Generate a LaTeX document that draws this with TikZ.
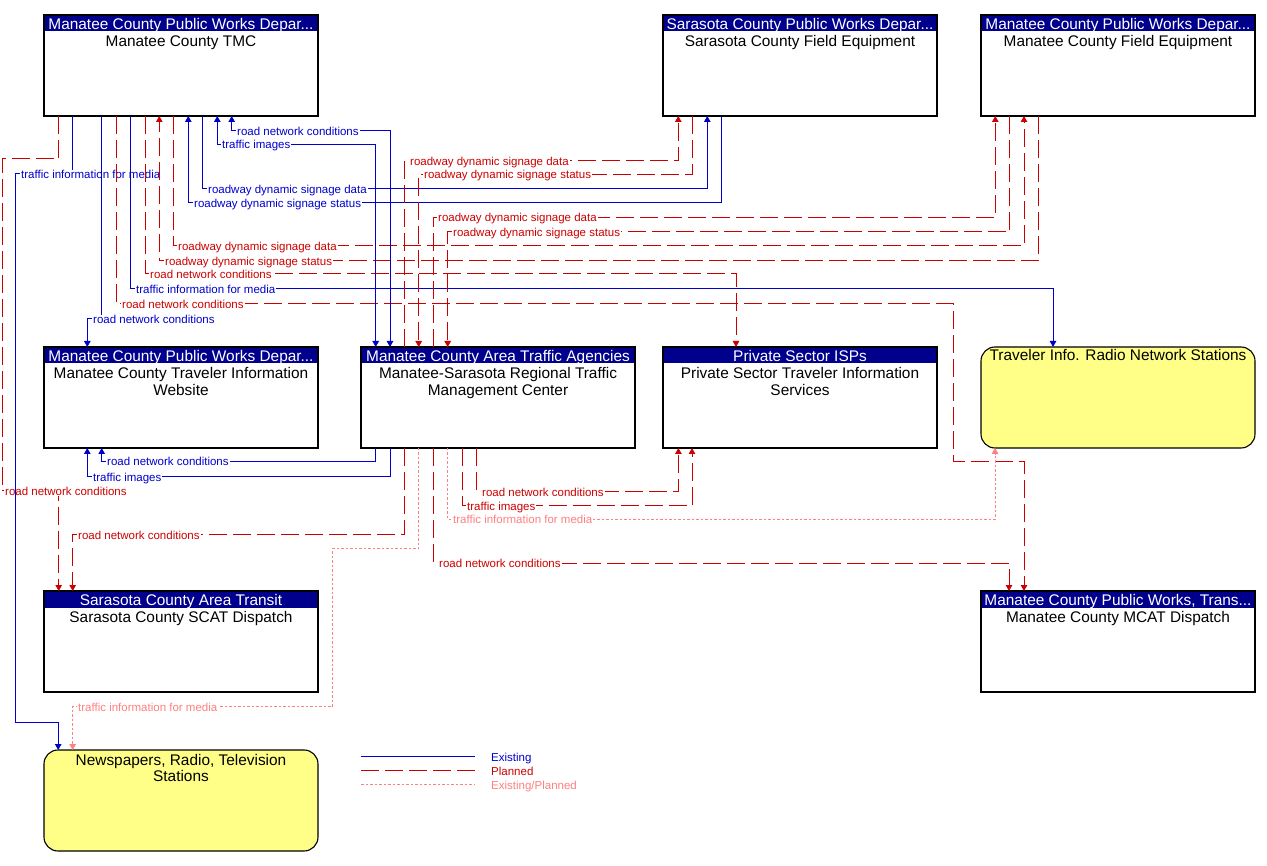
\documentclass[tikz,border=0pt]{standalone}
\usepackage{fontspec}
\setmainfont{Liberation Sans}
\usetikzlibrary{arrows.meta}
\definecolor{exblue}{RGB}{0,0,204}
\definecolor{plred}{RGB}{204,0,0}
\definecolor{expink}{RGB}{255,128,128}
\definecolor{hdrblue}{RGB}{0,0,140}
\definecolor{extyellow}{RGB}{255,255,136}
\tikzset{
 sbox/.style={draw=black, line width=1.1pt, minimum width=274pt, minimum height=101pt, inner sep=0pt, outer sep=0pt, anchor=north west},
 ybox/.style={sbox, fill=extyellow, rounded corners=14pt},
 hdrtext/.style={text=white, font=\fontsize{15.4}{17}\selectfont, inner sep=0pt, anchor=base},
 ttl/.style={text=black, font=\fontsize{15.4}{17}\selectfont, inner sep=0pt, anchor=base},
 lab/.style={font=\fontsize{11.5}{13}\selectfont, fill=white, inner xsep=1pt, inner ysep=0.5pt, anchor=base west},
 legtext/.style={font=\fontsize{11.5}{13}\selectfont, inner sep=0pt, anchor=base west},
 existing/.style={draw=exblue, line width=1pt},
 planned/.style={draw=plred, line width=1pt, dash pattern=on 18pt off 6pt},
 explan/.style={draw=expink, line width=1pt, dash pattern=on 2.5pt off 2pt},
 tip/.style={-{Triangle[width=6.5pt,length=6pt]}},
 tips/.style={{Triangle[width=6.5pt,length=6pt]}-{Triangle[width=6.5pt,length=6pt]}},
}
\newcommand\archbox[4]{%
 \node[sbox] (#1) at (#2,#3) {};
 \fill[hdrblue] (#1.north west) rectangle ([yshift=-16.5pt]#1.north east);
 \draw[line width=1.1pt] (#1.north west) rectangle (#1.south east);
 \node[hdrtext] at ([yshift=-14.3pt]#1.north) {#4};
}
\newcommand\lbl[4]{\node[lab,text=#1] at (#2,#3+4.5) {#4};}
\begin{document}
\begin{tikzpicture}[x=1pt,y=-1pt]
\useasboundingbox (0,0) rectangle (1267,866);
% boxes
\archbox{tmc}{44}{15}{Manatee County Public Works Depar...}
\node[ttl] at ([yshift=-31.7pt]tmc.north) {Manatee County TMC};
\archbox{sfe}{663}{15}{Sarasota County Public Works Depar...}
\node[ttl] at ([yshift=-31.7pt]sfe.north) {Sarasota County Field Equipment};
\archbox{mfe}{981}{15}{Manatee County Public Works Depar...}
\node[ttl] at ([yshift=-31.7pt]mfe.north) {Manatee County Field Equipment};
\archbox{web}{44}{347}{Manatee County Public Works Depar...}
\node[ttl] at ([yshift=-31.7pt]web.north) {Manatee County Traveler Information};
\node[ttl] at ([yshift=-48.4pt]web.north) {Website};
\archbox{rtmc}{361}{347}{Manatee County Area Traffic Agencies}
\node[ttl] at ([yshift=-31.7pt]rtmc.north) {Manatee-Sarasota Regional Traffic};
\node[ttl] at ([yshift=-48.4pt]rtmc.north) {Management Center};
\archbox{psi}{663}{347}{Private Sector ISPs}
\node[ttl] at ([yshift=-31.7pt]psi.north) {Private Sector Traveler Information};
\node[ttl] at ([yshift=-48.4pt]psi.north) {Services};
\node[ybox] (radio) at (981,347) {};
\node[ttl] at ([yshift=-14pt]radio.north) {Traveler Info. Radio Network Stations};
\archbox{scat}{44}{591}{Sarasota County Area Transit}
\node[ttl] at ([yshift=-31.7pt]scat.north) {Sarasota County SCAT Dispatch};
\archbox{mcat}{981}{591}{Manatee County Public Works, Trans...}
\node[ttl] at ([yshift=-31.7pt]mcat.north) {Manatee County MCAT Dispatch};
\node[ybox] (news) at (44,750) {};
\node[ttl] at ([yshift=-15pt]news.north) {Newspapers, Radio, Television};
\node[ttl] at ([yshift=-31.5pt]news.north) {Stations};
% connectors from TMC
\draw[planned,tip] (58.7,0 |- tmc.south) |- (2,159) |- (58.7,491) -- (58.7,0 |- scat.north);
\lbl{plred}{4}{491}{road network conditions}
\draw[planned,tip] (404.3,0 |- rtmc.south) |- (72.7,534.7) -- (72.7,0 |- scat.north);
\lbl{plred}{77}{534.7}{road network conditions}
\draw[existing,tip] (72,0 |- tmc.south) |- (15.7,174) |- (58.2,722) -- (58.2,0 |- news.north);
\lbl{exblue}{20}{174}{traffic information for media}
\draw[explan,tip] (418.7,0 |- rtmc.south) |- (332.7,548.3) |- (72.7,706.7) -- (72.7,0 |- news.north);
\lbl{expink}{77}{706.7}{traffic information for media}
\draw[existing,tip] (101.3,0 |- tmc.south) |- (87.3,319) -- (87.3,0 |- web.north);
\lbl{exblue}{92}{319}{road network conditions}
\draw[planned,tip] (116.3,0 |- tmc.south) |- (953,304) |- (1024,461.7) -- (1024,0 |- mcat.north);
\lbl{plred}{121}{304}{road network conditions}
\draw[existing,tip] (130.3,0 |- tmc.south) |- (1053,289) -- (1053,0 |- radio.north);
\lbl{exblue}{135}{289}{traffic information for media}
\draw[planned,tip] (145.3,0 |- tmc.south) |- (736,274) -- (736,0 |- psi.north);
\lbl{plred}{149}{274}{road network conditions}
\draw[planned,tip] (1038,0 |- mfe.south) |- (159.3,260.7) -- (159.3,0 |- tmc.south);
\lbl{plred}{164}{260.7}{roadway dynamic signage status}
\draw[planned,tip] (173.3,0 |- tmc.south) |- (1024,246) -- (1024,0 |- mfe.south);
\lbl{plred}{177}{246}{roadway dynamic signage data}
\draw[existing,tip] (721.7,0 |- sfe.south) |- (188.3,203) -- (188.3,0 |- tmc.south);
\lbl{exblue}{193}{203}{roadway dynamic signage status}
\draw[existing,tip] (202.3,0 |- tmc.south) |- (707.3,189) -- (707.3,0 |- sfe.south);
\lbl{exblue}{207}{189}{roadway dynamic signage data}
\draw[existing,tips] (217.3,0 |- tmc.south) |- (375.7,144.3) -- (375.7,0 |- rtmc.north);
\lbl{exblue}{221}{144.3}{traffic images}
\draw[existing,tips] (231.7,0 |- tmc.south) |- (390,130.7) -- (390,0 |- rtmc.north);
\lbl{exblue}{236}{130.7}{road network conditions}
% connectors from RTMC top
\draw[planned,tip] (404.3,0 |- rtmc.north) |- (678.3,160.7) -- (678.3,0 |- sfe.south);
\lbl{plred}{409}{160.7}{roadway dynamic signage data}
\draw[planned,tip] (692.3,0 |- sfe.south) |- (418.7,174.3) -- (418.7,0 |- rtmc.north);
\lbl{plred}{423}{174.3}{roadway dynamic signage status}
\draw[planned,tip] (433.3,0 |- rtmc.north) |- (995.3,217.5) -- (995.3,0 |- mfe.south);
\lbl{plred}{437}{217.5}{roadway dynamic signage data}
\draw[planned,tip] (1009.7,0 |- mfe.south) |- (447.7,232) -- (447.7,0 |- rtmc.north);
\lbl{plred}{452}{232}{roadway dynamic signage status}
% connectors from RTMC bottom
\draw[existing,tip] (375.7,0 |- rtmc.south) |- (101.7,461.3) -- (101.7,0 |- web.south);
\lbl{exblue}{106}{461.3}{road network conditions}
\draw[existing,tip] (390.3,0 |- rtmc.south) |- (87.3,476.7) -- (87.3,0 |- web.south);
\lbl{exblue}{92}{476.7}{traffic images}
\draw[planned,tip] (433.5,0 |- rtmc.south) |- (1009,563) -- (1009,0 |- mcat.north);
\lbl{plred}{438}{563}{road network conditions}
\draw[explan,tip] (447.8,0 |- rtmc.south) |- (995,519.3) -- (995,0 |- radio.south);
\lbl{expink}{452}{519.3}{traffic information for media}
\draw[planned,tip] (462.4,0 |- rtmc.south) |- (692,505.7) -- (692,0 |- psi.south);
\lbl{plred}{466}{505.7}{traffic images}
\draw[planned,tip] (476.7,0 |- rtmc.south) |- (678.4,491.7) -- (678.4,0 |- psi.south);
\lbl{plred}{481}{491.7}{road network conditions}
% legend
\coordinate (la1) at (361,756); \coordinate (lb1) at (475,756);
\coordinate (la2) at (361,770); \coordinate (lb2) at (475,770);
\coordinate (la3) at (361,784); \coordinate (lb3) at (475,784);
\draw[existing] (la1) -- (lb1);
\draw[planned] (la2) -- (lb2);
\draw[explan] (la3) -- (lb3);
\node[legtext,text=exblue] (lt1) at (491,761) {Existing};
\node[legtext,text=plred] (lt2) at (491,775) {Planned};
\node[legtext,text=expink] (lt3) at (491,789) {Existing/Planned};
\end{tikzpicture}
\end{document}
